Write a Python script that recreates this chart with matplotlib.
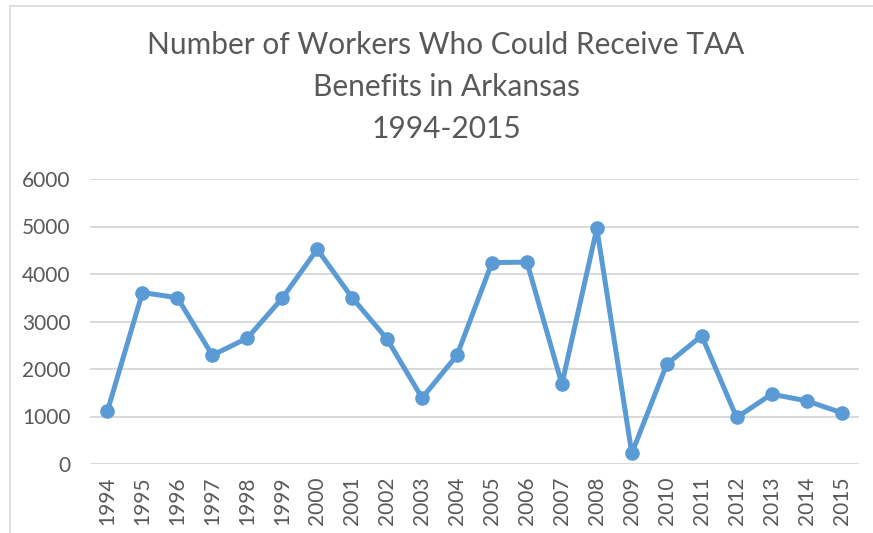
import matplotlib
matplotlib.use('Agg')

import matplotlib.pyplot as plt
from matplotlib.patches import Rectangle

years = ['1994', '1995', '1996', '1997', '1998', '1999', '2000', '2001',
         '2002', '2003', '2004', '2005', '2006', '2007', '2008', '2009',
         '2010', '2011', '2012', '2013', '2014', '2015']
workers = [1120, 3610, 3500, 2290, 2650, 3490, 4520, 3500,
           2630, 1390, 2290, 4240, 4250, 1680, 4960, 225,
           2100, 2700, 980, 1470, 1330, 1080]
y_ticks = [0, 1000, 2000, 3000, 4000, 5000, 6000]

title_lines = ['Number of Workers Who Could Receive TAA',
               'Benefits in Arkansas',
               '1994-2015']

BLUE = '#5B9BD5'
GRID = '#D9D9D9'
TEXT = '#595959'

plt.rcParams['font.family'] = ['Lato', 'DejaVu Sans']

W, H = 873, 533
fig = plt.figure(figsize=(W / 100, H / 100), dpi=100)

# chart area border (runs off the right/bottom edge of the crop)
fig.patches.append(Rectangle((10 / W, -0.05), 1.0, 1 - 6 / H + 0.05,
                             transform=fig.transFigure, fill=False,
                             edgecolor='#D9D9D9', linewidth=1.2))

ax = fig.add_axes([90 / W, 1 - 464 / H, (859 - 90) / W, (464 - 179) / H])

x = list(range(len(years)))
ax.plot(x, workers, color=BLUE, linewidth=3.6, marker='o',
        markersize=9.5, markerfacecolor=BLUE, markeredgecolor=BLUE,
        solid_joinstyle='round', zorder=3)

ax.set_xlim(-0.5, len(years) - 0.5)
ax.set_ylim(0, 6000)
ax.set_yticks(y_ticks)
ax.set_yticklabels([str(v) for v in y_ticks])
ax.set_xticks(x)
ax.set_xticklabels(years, rotation=90)

ax.grid(axis='y', color=GRID, linewidth=1.4, zorder=0)
ax.set_axisbelow(True)
for s in ax.spines.values():
    s.set_visible(False)
ax.tick_params(axis='both', length=0, colors=TEXT, labelsize=15)
ax.tick_params(axis='y', pad=14)
ax.tick_params(axis='x', pad=9)

for i, line in enumerate(title_lines):
    fig.text(446 / W, 1 - (45 + 42 * i) / H, line, ha='center', va='center',
             fontsize=21.5, color=TEXT)

fig.savefig('out.png', dpi=100, facecolor='white')
